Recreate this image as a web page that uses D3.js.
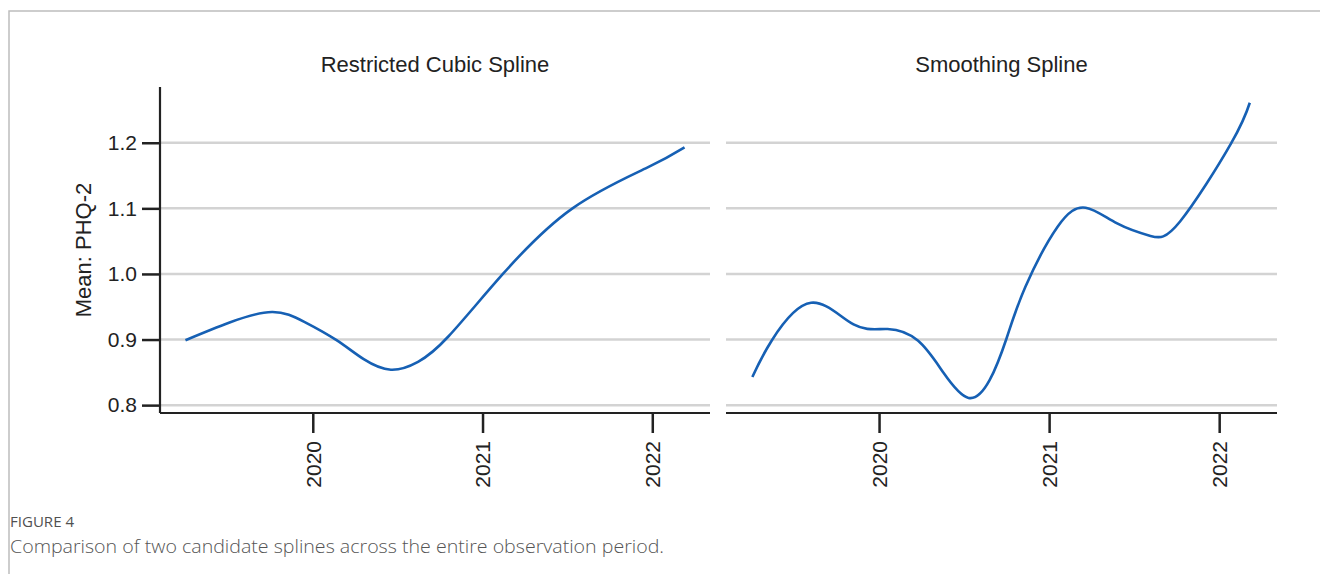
<!DOCTYPE html>
<html>
<head>
<meta charset="utf-8">
<script src="https://cdn.jsdelivr.net/npm/d3@7"></script>
<style>
  body { margin: 0; background: #fff; }
  svg { display: block; }
  .tick text { font-family: "Liberation Sans", Arial, sans-serif; fill: #222; }
</style>
</head>
<body>
<svg id="chart" width="1320" height="574"></svg>
<script>
// panel titles
const panels = ["Restricted Cubic Spline", "Smoothing Spline"];

// restricted cubic spline (year, mean PHQ-2)
const rcsYears  = [2019.25, 2019.51, 2019.76, 2019.95, 2020.14, 2020.30, 2020.46, 2020.62, 2020.80, 2021.12, 2021.53, 2021.97, 2022.19];
const rcsValues = [0.899, 0.926, 0.942, 0.927, 0.899, 0.870, 0.854, 0.866, 0.905, 1.000, 1.100, 1.162, 1.193];

// smoothing spline
const ssYears  = [2019.255, 2019.37, 2019.60, 2019.85, 2020.05, 2020.23, 2020.38, 2020.526, 2020.65, 2020.75, 2020.86, 2021.05, 2021.215, 2021.40, 2021.596, 2021.77, 2022.07, 2022.18];
const ssValues = [0.843, 0.899, 0.956, 0.923, 0.916, 0.898, 0.849, 0.811, 0.838, 0.902, 0.980, 1.072, 1.101, 1.077, 1.058, 1.080, 1.199, 1.261];

const yTicks = [0.8, 0.9, 1.0, 1.1, 1.2];
const xTicks = [2020, 2021, 2022];

const series = [
  rcsYears.map((d, i) => ({ x: d, y: rcsValues[i] })),
  ssYears.map((d, i) => ({ x: d, y: ssValues[i] }))
];

const svg = d3.select("#chart");

// outer frame (top + left only)
svg.append("path")
  .attr("d", "M9,574V11H1320")
  .attr("fill", "none")
  .attr("stroke", "#bdbdbd")
  .attr("stroke-width", 1.5);

const y = d3.scaleLinear().domain([0.788, 1.285]).range([413, 87]);
const panelX = [[160, 710], [726, 1277]];

panelX.forEach((r, p) => {
  const x = d3.scaleLinear().domain([2019.1, 2022.34]).range(r);
  const g = svg.append("g");

  // gridlines
  g.selectAll("line.grid")
    .data(yTicks)
    .join("line")
    .attr("class", "grid")
    .attr("x1", r[0]).attr("x2", r[1])
    .attr("y1", d => y(d)).attr("y2", d => y(d))
    .attr("stroke", "#d3d3d3")
    .attr("stroke-width", 2.5);

  // x axis
  const xa = g.append("g")
    .attr("transform", "translate(0,413)")
    .call(d3.axisBottom(x).tickValues(xTicks).tickFormat(d3.format("d")).tickSize(20).tickPadding(8));
  xa.select(".domain").attr("stroke", "#222").attr("stroke-width", 2.2).attr("d", `M${r[0]},0H${r[1]}`);
  xa.selectAll(".tick line").attr("stroke", "#222").attr("stroke-width", 2.5);
  xa.selectAll(".tick text")
    .attr("font-size", 21)
    .attr("transform", "rotate(-90)")
    .attr("text-anchor", "end")
    .attr("x", -28)
    .attr("y", 0)
    .attr("dy", "0.35em");

  // y axis on first panel only
  if (p === 0) {
    const ya = g.append("g")
      .attr("transform", `translate(${r[0]},0)`)
      .call(d3.axisLeft(y).tickValues(yTicks).tickFormat(d3.format(".1f")).tickSize(18).tickPadding(5));
    ya.select(".domain").attr("stroke", "#222").attr("stroke-width", 2.2).attr("d", "M0,413V87");
    ya.selectAll(".tick line").attr("stroke", "#222").attr("stroke-width", 2.5);
    ya.selectAll(".tick text").attr("font-size", 21);
  }

  // curve
  const line = d3.line()
    .x(d => x(d.x))
    .y(d => y(d.y))
    .curve(d3.curveNatural);
  g.append("path")
    .datum(series[p])
    .attr("fill", "none")
    .attr("stroke", "#1660b4")
    .attr("stroke-width", 2.6)
    .attr("d", line);

  // panel title
  g.append("text")
    .attr("x", (r[0] + r[1]) / 2)
    .attr("y", 72)
    .attr("text-anchor", "middle")
    .attr("font-family", "Liberation Sans, Arial, sans-serif")
    .attr("font-size", 22)
    .attr("fill", "#222")
    .text(panels[p]);
});

// y axis label
svg.append("text")
  .attr("transform", "translate(91,250) rotate(-90)")
  .attr("text-anchor", "middle")
  .attr("font-family", "Liberation Sans, Arial, sans-serif")
  .attr("font-size", 22)
  .attr("fill", "#222")
  .text("Mean: PHQ-2");

// caption
svg.append("text")
  .attr("x", 10).attr("y", 527)
  .attr("font-family", "Open Sans, sans-serif")
  .attr("font-size", 15)
  .attr("fill", "#505050")
  .attr("textLength", 64)
  .attr("lengthAdjust", "spacingAndGlyphs")
  .text("FIGURE 4");
svg.append("text")
  .attr("x", 10).attr("y", 553)
  .attr("font-family", "Open Sans, sans-serif")
  .attr("font-size", 18)
  .attr("font-weight", 300)
  .attr("fill", "#555")
  .attr("textLength", 654)
  .attr("lengthAdjust", "spacingAndGlyphs")
  .text("Comparison of two candidate splines across the entire observation period.");
</script>
</body>
</html>
